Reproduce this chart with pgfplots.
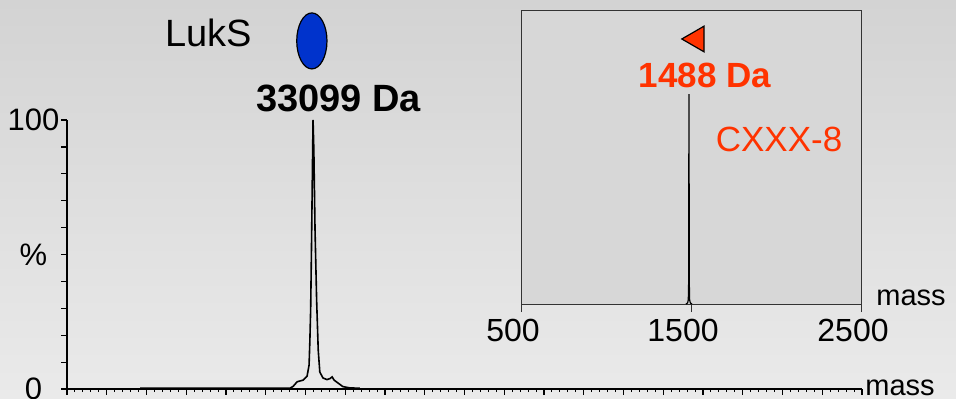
\documentclass[border=0pt]{standalone}
\usepackage{pgfplots}
\pgfplotsset{compat=1.18}
\usepackage{fontspec}
\setmainfont{Liberation Sans}
\definecolor{bgtop}{HTML}{D3D3D3}
\definecolor{bgbot}{HTML}{EAEAEA}
\definecolor{insetbg}{HTML}{D7D7D7}
\definecolor{redorange}{HTML}{FF3300}
\definecolor{lukblue}{HTML}{0033CC}
\begin{document}
\begin{tikzpicture}
\shade[top color=bgtop, bottom color=bgbot] (0,0) rectangle (478pt,199pt);
\path[use as bounding box] (0,0) rectangle (478pt,199pt);
% main spectrum
\begin{axis}[
  at={(33.5pt,4.5pt)}, anchor=south west,
  scale only axis, width=397.5pt, height=134.5pt,
  xmin=0, xmax=20, ymin=0, ymax=100,
  axis x line=bottom, axis y line=left,
  axis line style={-, line width=0.75pt},
  xtick distance=1, minor x tick num=4,
  xticklabels={},
  ytick={0,10,...,100},
  yticklabels={0,,,,,\%,,,,,100},
  tick align=outside,
  major tick length=2.8pt, minor tick length=1.6pt,
  tick style={line width=0.6pt, black},
  minor x tick style={line width=0.5pt, black},
  /pgf/number format/assume math mode=true,
  yticklabel style={font=\fontsize{15.5}{17}\selectfont, anchor=center, xshift=-14pt},
  clip=false,
]
\addplot[black, line width=0.8pt] coordinates {
(1.84,0.3) (5.61,0.3) (5.69,1.0) (5.79,2.7) (5.94,3.3) (6.04,4.8) (6.09,8.9)
(6.11,18) (6.13,29.7) (6.15,51.7) (6.18,88.8) (6.19,100) (6.21,88.8) (6.24,59)
(6.28,33) (6.32,14.5) (6.36,6.3) (6.44,4.1) (6.54,3.5) (6.62,3.9) (6.67,4.5)
(6.72,3.3) (6.82,2.2) (6.94,0.9) (7.12,0.4) (7.37,0.3)
};
\addplot[only marks, mark=*, mark size=14pt,
  mark options={xscale=0.54, fill=lukblue, draw=black, line width=0.6pt}]
  coordinates {(6.16,129.4)};
\node[font=\fontsize{19}{22}\selectfont] at (axis cs:3.56,132.2) {LukS};
\node[font=\fontsize{19}{22}\selectfont\bfseries] at (axis cs:6.83,108) {33099 Da};
\node[font=\fontsize{14.5}{17}\selectfont, anchor=base west, inner sep=0pt]
  at ([xshift=1.5pt,yshift=-3pt]rel axis cs:1,0) {mass};
\end{axis}
% inset
\begin{axis}[
  at={(260.5pt,47pt)}, anchor=south west,
  scale only axis, width=170pt, height=147pt,
  xmin=500, xmax=2500, ymin=0, ymax=140,
  axis background/.style={fill=insetbg},
  axis line style={line width=0.5pt, black!80},
  xtick={500,1500,2500}, xtick pos=bottom,
  ytick=\empty,
  tick align=outside, major tick length=4pt,
  tick style={line width=0.5pt, black!80},
  /pgf/number format/assume math mode=true,
  /pgf/number format/1000 sep={},
  xticklabel style={font=\fontsize{16}{18}\selectfont, xshift=-4pt},
  clip=false,
]
\addplot[black, line width=0.6pt] coordinates {
(1470,0) (1480,0.5) (1484,2) (1486,10) (1487,60) (1488,100) (1489,60)
(1490,10) (1492,2) (1496,0.5) (1506,0)
};
\addplot[only marks, mark=triangle*, mark size=7.4pt,
  mark options={rotate=90, fill=redorange, draw=black, line width=0.6pt}]
  coordinates {(1533,126.2)};
\node[font=\fontsize{17.5}{20}\selectfont\bfseries, text=redorange] at (axis cs:1582,108.8) {1488 Da};
\node[font=\fontsize{17.5}{20}\selectfont, text=redorange] at (axis cs:2018,78.3) {CXXX-8};
\node[font=\fontsize{14.5}{17}\selectfont, anchor=base west, inner sep=0pt]
  at ([xshift=7.5pt,yshift=-0.5pt]rel axis cs:1,0) {mass};
\end{axis}
\end{tikzpicture}
\end{document}
